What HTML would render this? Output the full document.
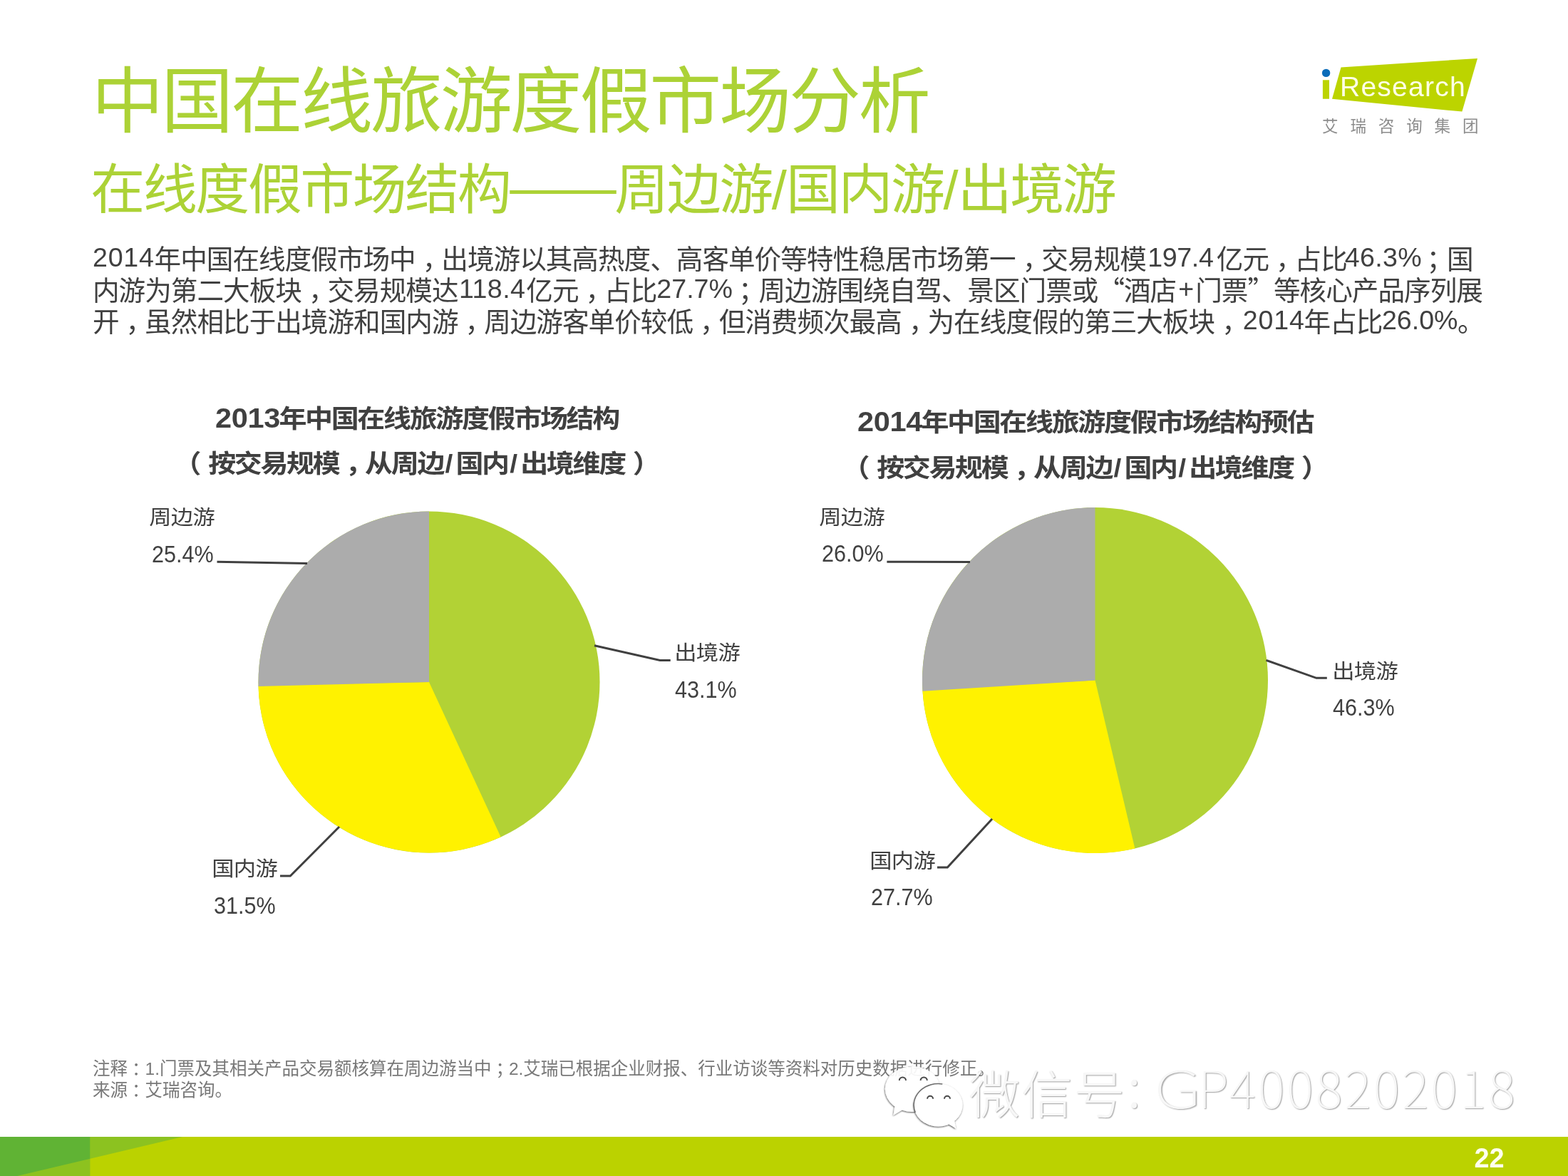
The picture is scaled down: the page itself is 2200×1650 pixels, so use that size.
<!DOCTYPE html>
<html lang="zh-CN">
<head>
<meta charset="utf-8">
<title>中国在线旅游度假市场分析</title>
<style>
html,body{margin:0;padding:0;background:#fff;}
body{width:2200px;height:1650px;position:relative;overflow:hidden;font-family:"Liberation Sans","Noto Sans CJK SC",sans-serif;}
.abs{position:absolute;white-space:nowrap;line-height:1;}
#title{left:128.5px;top:93px;font-size:101px;letter-spacing:-3.15px;color:#acd236;font-family:"Liberation Sans","Noto Sans CJK SC",sans-serif;font-weight:400;}
#subtitle{left:127.3px;top:228.5px;font-size:76px;letter-spacing:-2.5px;color:#acd236;font-family:"Liberation Sans","Noto Sans CJK SC",sans-serif;font-weight:400;}
.dash{position:relative;top:-3.5px;}
.sl{letter-spacing:-0.9px;}
#body{left:130px;top:342px;font-size:37.6px;letter-spacing:-0.97px;line-height:44px;color:#404040;}
#body div{white-space:nowrap;height:44px;}
#body .n{position:relative;top:-2.6px;}
#body .c{position:relative;left:10px;}
#body .sc{left:8px;}
#body .q{font-family:"Noto Sans CJK SC",sans-serif;line-height:0;}
.ctitle{font-weight:bold;color:#404040;font-size:39px;letter-spacing:-2.35px;line-height:44px;height:44px;transform:scaleY(0.915);transform-origin:50% 50%;}
.ctitle .d{font-size:41.5px;letter-spacing:-0.35px;margin-right:-1.5px;line-height:0;}
.ctitle .s{margin-left:2.5px;letter-spacing:4.1px;}
.ctitle .pl{position:relative;left:-12px;}
.ctitle .pr{position:relative;left:11px;}
.ctitle .cm{position:relative;left:9px;}
.lab{font-size:31.3px;letter-spacing:-0.75px;color:#404040;transform:scaleY(0.925);transform-origin:50% 100%;}
.pct{font-size:33.5px;letter-spacing:0;color:#404040;transform:scaleX(0.912);transform-origin:0 50%;}
#note{left:130px;top:1484.5px;font-size:24.5px;line-height:30px;color:#787878;}
#note .c{position:relative;left:6px;}
#bar{position:absolute;left:0;top:1595px;width:2200px;height:55px;background:#bbd200;}
#logoR{left:1880px;top:102.1px;font-size:39.1px;letter-spacing:1.2px;color:#ffffe6;}
#logoC{left:1855px;top:163.7px;font-size:22.5px;letter-spacing:16.9px;color:#8c8c8c;font-family:"Noto Sans CJK SC",sans-serif;font-weight:400;}
.wm{color:#f7f7f7;font-family:"Noto Sans CJK SC",sans-serif;font-weight:300;text-shadow:1px 1px 1.5px rgba(0,0,0,0.38);}
#wm1{left:1359.5px;top:1494.5px;font-size:72px;letter-spacing:1.5px;}
#wm2{left:1581.7px;top:1483.4px;font-size:76px;font-weight:300;}
#wm3{left:1618.8px;top:1489px;font-size:71px;letter-spacing:3.4px;font-weight:100;}
#wm3 .G{display:inline-block;transform:scaleX(1.42);transform-origin:0 50%;margin-right:12px;}
#wm3 .P{margin-right:-2px;}
#pg{left:2068.5px;top:1606.5px;font-size:37.9px;letter-spacing:0px;font-weight:bold;color:#ffffee;}
</style>
</head>
<body>
<div id="title" class="abs">中国在线旅游度假市场分析</div>
<div id="subtitle" class="abs">在线度假市场结构<span class="dash">——</span>周边游<span class="sl">/</span>国内游<span class="sl">/</span>出境游</div>
<div id="body" class="abs">
<div><span class="n" style="margin-left:0px;letter-spacing:0.75px;margin-right:0px">2014</span>年中国在线度假市场中<span class="c">，</span>出境游以其高热度、高客单价等特性稳居市场第一<span class="c">，</span>交易规模<span class="n" style="margin-left:2.6px;letter-spacing:-0.4px;margin-right:4.4px">197.4</span>亿元<span class="c">，</span>占比<span class="n" style="margin-left:-3px;letter-spacing:0.3px;margin-right:-1.4px">46.3%</span><span class="c sc">；</span>国</div>
<div>内游为第二大板块<span class="c">，</span>交易规模达<span class="n" style="margin-left:1.5px;letter-spacing:0.4px;margin-right:1px">118.4</span>亿元<span class="c">，</span>占比<span class="n" style="margin-left:0px;letter-spacing:0px;margin-right:0px">27.7%</span><span class="c sc">；</span>周边游围绕自驾、景区门票或<span class="q">“</span>酒店<span class="n" style="margin-left:3px;letter-spacing:0px;margin-right:2px">+</span>门票<span class="q">”</span>等核心产品序列展</div>
<div>开<span class="c">，</span>虽然相比于出境游和国内游<span class="c">，</span>周边游客单价较低<span class="c">，</span>但消费频次最高<span class="c">，</span>为在线度假的第三大板块<span class="c">，</span><span class="n" style="margin-left:3px;letter-spacing:0.8px;margin-right:-1px">2014</span>年占比<span class="n" style="margin-left:-0.5px;letter-spacing:0px;margin-right:-0.5px">26.0%</span>。</div>
</div>

<svg id="charts" width="2200" height="1650" viewBox="0 0 2200 1650" style="position:absolute;left:0;top:0">
<g id="pie1">
<circle cx="602" cy="957" r="239.5" fill="#b2d235"/>
<path d="M602 957L702.61 1174.34A239.5 239.5 0 0 1 362.55 961.76Z" fill="#fff200"/>
<path d="M602 957L362.58 963.02A239.5 239.5 0 0 1 602.00 717.50Z" fill="#acacac"/>
</g>
<g id="pie2">
<circle cx="1536.5" cy="954.5" r="242.5" fill="#b2d235"/>
<path d="M1536.5 954.5L1592.37 1190.48A242.5 242.5 0 0 1 1294.40 968.46Z" fill="#fff200"/>
<path d="M1536.5 954.5L1294.48 969.73A242.5 242.5 0 0 1 1536.50 712.00Z" fill="#acacac"/>
</g>
<g id="leaders" fill="none" stroke="#404040" stroke-width="3">
<polyline points="304.5,788.3 431,790.6"/>
<polyline points="834,905.7 926,926.4 940.7,926.4"/>
<polyline points="393,1229 407.3,1229 476,1160"/>
<polyline points="1244.4,788.3 1361,788.5"/>
<polyline points="1776.5,926.4 1847,951.3 1861.8,951.3"/>
<polyline points="1315,1217 1329.3,1217 1392,1149"/>
</g>
</svg>

<div class="abs ctitle" style="left:302px;top:566px;"><span class="d">2013</span>年中国在线旅游度假市场结构</div>
<div class="abs ctitle" style="left:255.5px;top:628.5px;"><span class="pl">（</span>按交易规模<span class="cm">，</span>从周边<span class="s">/</span>国内<span class="s">/</span>出境维度<span class="pr">）</span></div>
<div class="abs ctitle" style="left:1203px;top:571px;"><span class="d">2014</span>年中国在线旅游度假市场结构预估</div>
<div class="abs ctitle" style="left:1193.5px;top:635px;"><span class="pl">（</span>按交易规模<span class="cm">，</span>从周边<span class="s">/</span>国内<span class="s">/</span>出境维度<span class="pr">）</span></div>

<div class="abs lab" style="left:209.3px;top:710.3px;">周边游</div>
<div class="abs pct" style="left:212.8px;top:761px;">25.4%</div>
<div class="abs lab" style="left:946.3px;top:900.3px;">出境游</div>
<div class="abs pct" style="left:947px;top:951px;">43.1%</div>
<div class="abs lab" style="left:297.3px;top:1203.3px;">国内游</div>
<div class="abs pct" style="left:300px;top:1253.7px;">31.5%</div>
<div class="abs lab" style="left:1149.3px;top:710.3px;">周边游</div>
<div class="abs pct" style="left:1152.6px;top:759.8px;">26.0%</div>
<div class="abs lab" style="left:1869.3px;top:926.3px;">出境游</div>
<div class="abs pct" style="left:1870.4px;top:975.8px;">46.3%</div>
<div class="abs lab" style="left:1220.3px;top:1192.3px;">国内游</div>
<div class="abs pct" style="left:1221.8px;top:1241.9px;">27.7%</div>

<div id="note" class="abs"><div>注释<span class="c">：</span>1.门票及其相关产品交易额核算在周边游当中<span class="c">；</span>2.艾瑞已根据企业财报、行业访谈等资料对历史数据进行修正。</div><div>来源<span class="c">：</span>艾瑞咨询。</div></div>
<div id="bar"></div>
<svg id="deco" width="2200" height="1650" viewBox="0 0 2200 1650" style="position:absolute;left:0;top:0">
<polygon points="1881.5,94.4 2073,81.9 2051.4,156.6 1869,138.75" fill="#bcd400"/>
<rect x="1855.9" y="112.3" width="9.1" height="26.45" fill="#bcd400"/>
<circle cx="1860.6" cy="102.4" r="5.7" fill="#0b6cb9"/>
<rect x="0" y="1595" width="126.4" height="55" fill="#8dc21f"/>
<polygon points="126.4,1595 256,1595 126.4,1625.7" fill="#8cc220"/>
<polygon points="0,1595 126.4,1595 126.4,1625.7 24,1650 0,1650" fill="#60b334"/>
</svg>
<div id="logoR" class="abs">Research</div>
<div id="logoC" class="abs">艾瑞咨询集团</div>
<svg id="wx" width="140" height="110" viewBox="1230 1485 140 110" style="position:absolute;left:1230px;top:1485px">
<defs>
<filter id="ds" x="-20%" y="-20%" width="140%" height="140%"><feDropShadow dx="-0.5" dy="1" stdDeviation="0.9" flood-color="#000" flood-opacity="0.75"/></filter>
<filter id="bl" x="-50%" y="-50%" width="200%" height="200%"><feGaussianBlur stdDeviation="0.7"/></filter>
</defs>
<g filter="url(#ds)" opacity="0.93">
<path d="M1241.8 1528a38.7 32 0 1 0 77.4 0a38.7 32 0 1 0 -77.4 0ZM1255.5 1551L1253.5 1564.8L1268 1556Z" fill="#fff"/>
</g>
<g filter="url(#ds)">
<path d="M1282.2 1550.5a34.2 30 0 1 0 68.4 0a34.2 30 0 1 0 -68.4 0ZM1330 1576.5L1341.4 1583.5L1338.8 1571Z" fill="#fff"/>
</g>
<g fill="none" stroke="#4a4a4a" filter="url(#bl)">
<path d="M1322.3 1521.0A34.2 30 0 0 0 1284.3 1560.8" stroke-width="1.4" opacity="0.8"/>
<path d="M1261.8 1516a4.6 4.6 0 0 1 9.2 0" stroke-width="2"/>
<path d="M1291.6 1516a4.6 4.6 0 0 1 9.2 0" stroke-width="2"/>
<path d="M1301.1 1541.8a4 4 0 0 1 8 0" stroke-width="2"/>
<path d="M1325 1541.8a4 4 0 0 1 8 0" stroke-width="2"/>
</g>
</svg>
<div id="wm1" class="abs wm">微信号</div><div id="wm2" class="abs wm">: </div><div id="wm3" class="abs wm"><span class="G">G</span><span class="P">P</span>4008202018</div>
<div id="pg" class="abs">22</div>
</body>
</html>
